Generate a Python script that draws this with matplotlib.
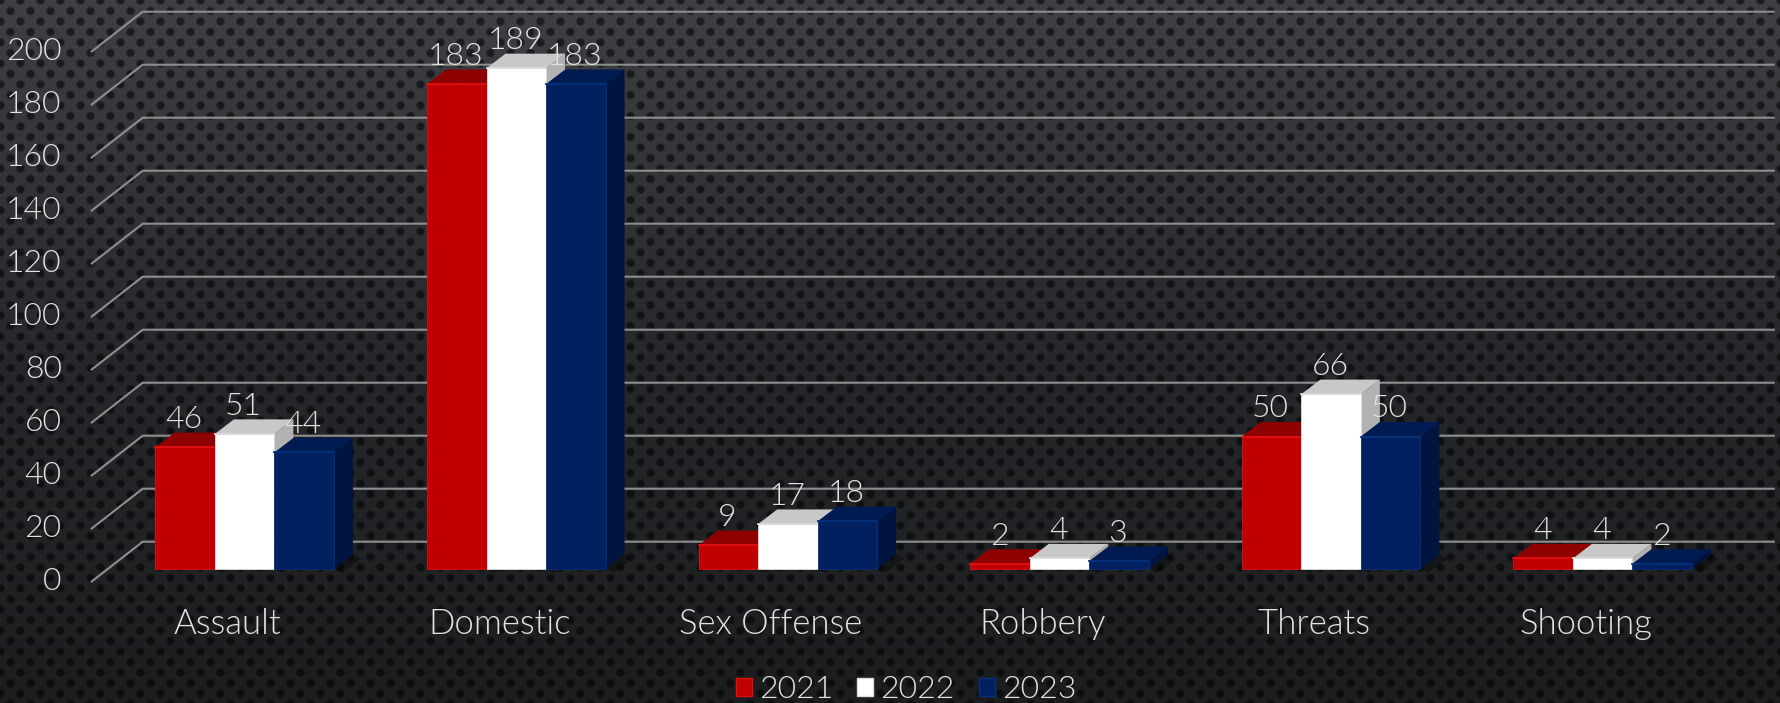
import numpy as np
import matplotlib
matplotlib.use('Agg')
import matplotlib.pyplot as plt
from matplotlib.patches import Polygon, Patch

categories = ['Assault', 'Domestic', 'Sex Offense', 'Robbery', 'Threats', 'Shooting']
years = ['2021', '2022', '2023']
values2021 = [46, 183, 9, 2, 50, 4]
values2022 = [51, 189, 17, 4, 66, 4]
values2023 = [44, 183, 18, 3, 50, 2]
yTicks = [0, 20, 40, 60, 80, 100, 120, 140, 160, 180, 200]

frontColors = ['#c00000', '#ffffff', '#002060']
topColors = ['#8f0000', '#c8c8c8', '#001b52']
sideColors = ['#8a0000', '#b2b2b2', '#001440']
edgeColors = ['#e01010', '#dcdcdc', '#06307c']

W, H = 1781, 703
textColor = '#e2e2e2'
fontName = ['Lato', 'DejaVu Sans']
fontWeight = 300

### pixel <-> data scale: groups are 271.6 px apart, one unit of value is 2.65 px
pxX = 271.6
pxY = 2.65
barW = 59.5 / pxX
depthX = 19 / pxX
depthY = 14.5 / pxY

fig = plt.figure(figsize=(W / 100, H / 100), dpi=100)

### background gradient with the dotted texture
yy, xx = np.mgrid[0:H, 0:W]
t = yy / (H - 1.0)
base = np.stack([np.interp(t, [0, 0.5, 1], c) for c in ([62, 38, 28], [64, 40, 29], [68, 43, 31])], axis=-1)
dotRow = np.round(yy / 10.5)
dx = (xx - 10 * (dotRow % 2) + 10) % 20 - 10
dy = yy - dotRow * 10.5
dist = np.sqrt(dx ** 2 + dy ** 2)
dotMask = np.clip((5.0 - dist) / 2.0, 0, 1)[..., None]
dotColor = base * 0.45
bg = (base * (1 - dotMask) + dotColor * dotMask) / 255.0
bgAx = fig.add_axes([0, 0, 1, 1], zorder=0)
bgAx.imshow(bg, aspect='auto', interpolation='nearest')
bgAx.axis('off')

ax = fig.add_axes([0, 0, 1, 1], zorder=1)
ax.patch.set_alpha(0)
ax.set_xlim(-244.7 / pxX, (W - 244.7) / pxX)
ax.set_ylim(-(H - 569) / pxY, 569 / pxY)
ax.axis('off')

### the walls: a line on the floor edge plus a line on the back wall
wallX0 = (92 - 245) / pxX
wallX1 = (143 - 245) / pxX
wallX2 = (1774 - 245) / pxX
frontShift = -12.5 / pxY
backShift = 27.3 / pxY
for v in yTicks:
    ax.plot([wallX0, wallX1, wallX2], [v + frontShift, v + backShift, v + backShift],
            color='#8e8e8e', lw=1.5, zorder=1, solid_joinstyle='round')
    ax.text((62 - 245) / pxX, v + frontShift, str(v), ha='right', va='center',
            color=textColor, fontsize=23, family=fontName, fontweight=fontWeight, zorder=6)

### bars with fake 3d faces
series = [values2021, values2022, values2023]
for s in range(3):
    vals = series[s]
    offset = (s - 1) * barW
    for i in range(len(categories)):
        left = i + offset - barW / 2
        right = left + barW
        v = vals[i]
        ax.add_patch(Polygon([[right + depthX, depthY], [right + depthX + 0.03, depthY - 1.5],
                              [right + 0.03, -1.5], [right, 0]], closed=True,
                             facecolor='#000000', alpha=0.35, edgecolor='none', zorder=2 + s * 0.1))
        ax.add_patch(Polygon([[right, 0], [right + depthX, depthY], [right + depthX, v + depthY], [right, v]],
                             closed=True, facecolor=sideColors[s], edgecolor='none', zorder=3 + s * 0.1))
        ax.add_patch(Polygon([[left, v], [left + depthX, v + depthY], [right + depthX, v + depthY], [right, v]],
                             closed=True, facecolor=topColors[s], edgecolor='none', zorder=3 + s * 0.1))
        ax.bar(i + offset, v, width=barW, color=frontColors[s], edgecolor=edgeColors[s], linewidth=0.6,
               zorder=3.01 + s * 0.1)
        ### small bevel along the top edge of the front face
        ax.plot([left, right], [v, v], color=edgeColors[s], lw=1.3, zorder=3.02 + s * 0.1)
        ax.text(i + offset - 1 / pxX, v + 10.4, str(v), ha='center', va='center', color=textColor,
                fontsize=23, family=fontName, fontweight=fontWeight, zorder=6)

### category names under the groups
for i in range(len(categories)):
    ax.text(i - 17 / pxX, -(624 - 569) / pxY, categories[i], ha='center', va='center', color=textColor,
            fontsize=25, family=fontName, fontweight=fontWeight, zorder=6)

### legend
handles = [Patch(facecolor=frontColors[s], edgecolor=edgeColors[s], linewidth=1.0) for s in range(3)]
leg = ax.legend(handles, years, loc='center', bbox_to_anchor=(906 / W, 1 - 690 / H), ncol=3, frameon=False,
                handlelength=0.5, handleheight=0.5, handletextpad=0.22, columnspacing=0.76,
                prop={'family': fontName, 'size': 23, 'weight': fontWeight}, labelcolor=textColor)

fig.savefig('out.png', dpi=100)
